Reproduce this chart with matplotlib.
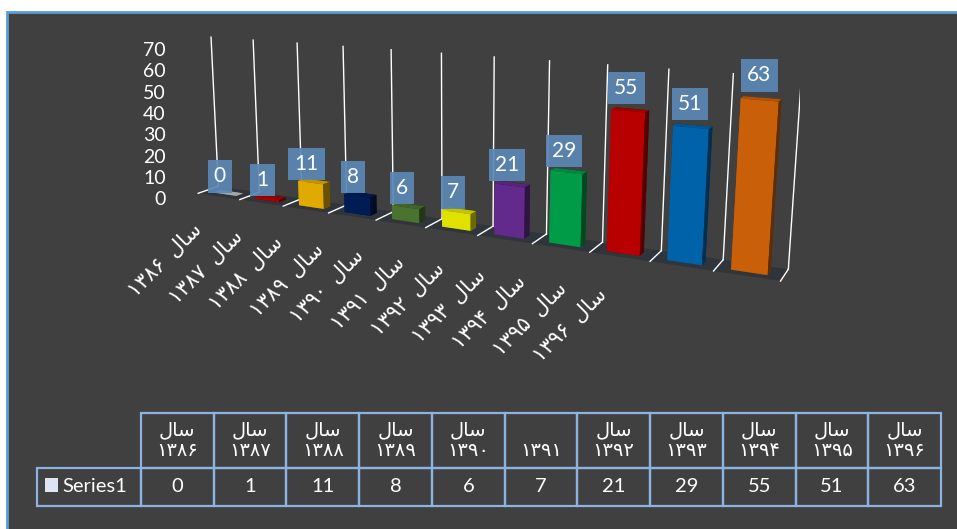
import matplotlib
matplotlib.use('Agg')
import matplotlib.pyplot as plt
from matplotlib.patches import Rectangle
from mpl_toolkits.mplot3d.art3d import Poly3DCollection

plt.rcParams['font.family'] = ['Lato', 'DejaVu Sans']

# Data
categories = ['سال ۱۳۸۶', 'سال ۱۳۸۷', 'سال ۱۳۸۸', 'سال ۱۳۸۹', 'سال ۱۳۹۰', 'سال ۱۳۹۱',
              'سال ۱۳۹۲', 'سال ۱۳۹۳', 'سال ۱۳۹۴', 'سال ۱۳۹۵', 'سال ۱۳۹۶']
table_heads = ['سال ۱۳۸۶', 'سال ۱۳۸۷', 'سال ۱۳۸۸', 'سال ۱۳۸۹', 'سال ۱۳۹۰', '۱۳۹۱',
               'سال ۱۳۹۲', 'سال ۱۳۹۳', 'سال ۱۳۹۴', 'سال ۱۳۹۵', 'سال ۱۳۹۶']
values = [0, 1, 11, 8, 6, 7, 21, 29, 55, 51, 63]
bar_colors = ['#d9d9d9', '#c00000', '#ffc000', '#002060', '#548235', '#ffff00',
              '#7030a0', '#00b050', '#d00000', '#0070c0', '#e46c0a']
series_name = 'Series1'
z_ticks = [0, 10, 20, 30, 40, 50, 60, 70]

BG = '#404040'

# matplotlib has no Arabic shaping, so pick presentation forms by hand
FORMS = {'س': ('\uFEB1', '\uFEB2', '\uFEB3', '\uFEB4'),
         'ا': ('\uFE8D', '\uFE8E', None, None),
         'ل': ('\uFEDD', '\uFEDE', '\uFEDF', '\uFEE0')}


def shape_word(w):
    if not any(c in FORMS for c in w):
        return w
    out = []
    for k, c in enumerate(w):
        prev_joins = k > 0 and FORMS[w[k - 1]][2] is not None
        next_ok = k < len(w) - 1 and FORMS[c][2] is not None
        iso, fin, ini, med = FORMS[c]
        if prev_joins and next_ok:
            out.append(med)
        elif prev_joins:
            out.append(fin)
        elif next_ok:
            out.append(ini)
        else:
            out.append(iso)
    return ''.join(reversed(out))


def rtl(s, sep=' '):
    return sep.join(shape_word(w) for w in reversed(s.split(' ')))


W, H = 957, 529
fig = plt.figure(figsize=(W / 100, H / 100), dpi=100, facecolor='white')
fig.patches.append(Rectangle((7 / W, -0.05), 1.1, 1 - 12 / H + 0.05, transform=fig.transFigure,
                             facecolor=BG, edgecolor='#5b9bd5', lw=2, zorder=-5))

# 3D columns (mplot3d keeps its axes square, so make it big)
side = 700
cx, cy = 450, 153
ax3 = fig.add_axes([(cx - side / 2) / W, 1 - (cy + side / 2) / H, side / W, side / H],
                   projection='3d', computed_zorder=False)
ax3.set_proj_type('persp', focal_length=0.29)
ax3.view_init(elev=12.5, azim=-63)
ax3.set_box_aspect((10.8, 0.59, 2.9), zoom=0.93)
ax3.set_xlim(0, 11)
ax3.set_ylim(0, 1)
ax3.set_zlim(0, 70)
ax3.set_axis_off()
ax3.patch.set_alpha(0)

n = len(values)
floor = Poly3DCollection([[(0, 0, 0), (n, 0, 0), (n, 1, 0), (0, 1, 0)]],
                         facecolor='#30353c', edgecolor='none', zorder=1)
ax3.add_collection3d(floor)
for i in range(n + 1):
    ax3.plot([i, i], [1, 1], [0, 70], color='white', lw=1, zorder=2)
    ax3.plot([i, i], [0, 1], [0, 0], color='white', lw=1, zorder=2)

ax3.bar3d([i + 0.225 for i in range(n)], [0.3] * n, [0] * n, [0.55] * n, [0.35] * n,
          values, color=bar_colors, shade=True, zorder=3)

for i, v in enumerate(values):
    ax3.text(i + 0.5, 0.1, v + 9, str(v), ha='center', va='center', color='white',
             fontsize=15, zorder=10,
             bbox=dict(boxstyle='square,pad=0.3', fc='#5b87b5', ec='none', alpha=0.92))

# flat overlay for value axis labels and category labels
ov = fig.add_axes([170 / W, 1 - 198.5 / H, 640 / W, 149.5 / H])
ov.set_ylim(0, 70)
ov.set_xlim(-(202 - 170) / 40.5, (810 - 202) / 40.5)
ov.set_yticks(z_ticks)
ov.tick_params(axis='y', length=0, pad=3, labelcolor='white', labelsize=14)
ov.set_xticks([])
for s in ov.spines.values():
    s.set_visible(False)
ov.patch.set_alpha(0)
for i, c in enumerate(categories):
    ov.text(i - 0.25, -10 - 3.04 * i, rtl(c, sep='  '), rotation=45, rotation_mode='anchor',
            ha='right', va='top', color='white', fontsize=15, clip_on=False)

# data table
tax = fig.add_axes([37 / W, 1 - 506 / H, 904 / W, 93 / H])
tax.set_axis_off()
head_row = [''] + ['\n'.join(shape_word(w) for w in h.split(' ')) if ' ' in h else '\n' + h
                   for h in table_heads]
val_row = [''] + [str(v) for v in values]
first_w = 104
col_w = [first_w] + [(904 - first_w) / n] * n
tbl = tax.table(cellText=[head_row, val_row], colWidths=col_w, bbox=[0, 0, 1, 1],
                cellLoc='center')
tbl.auto_set_font_size(False)
for (r, c), cell in tbl.get_celld().items():
    cell.set_facecolor('none')
    cell.set_edgecolor('#8db3e2')
    cell.set_linewidth(1.6)
    cell.set_height(55 if r == 0 else 38)
    cell.get_text().set_color('white')
    cell.get_text().set_fontsize(14 if r == 0 else 14.5)
    if r == 0 and c == 0:
        cell.visible_edges = ''
tax.add_patch(Rectangle((8 / 904, 14 / 93), 13 / 904, 14 / 93, transform=tax.transAxes,
                        facecolor='#dce6f2', edgecolor='none'))
tax.text(25 / 904, 19 / 93, series_name, color='white', fontsize=14.5, ha='left', va='center')

fig.savefig('out.png', dpi=100, facecolor='white')
